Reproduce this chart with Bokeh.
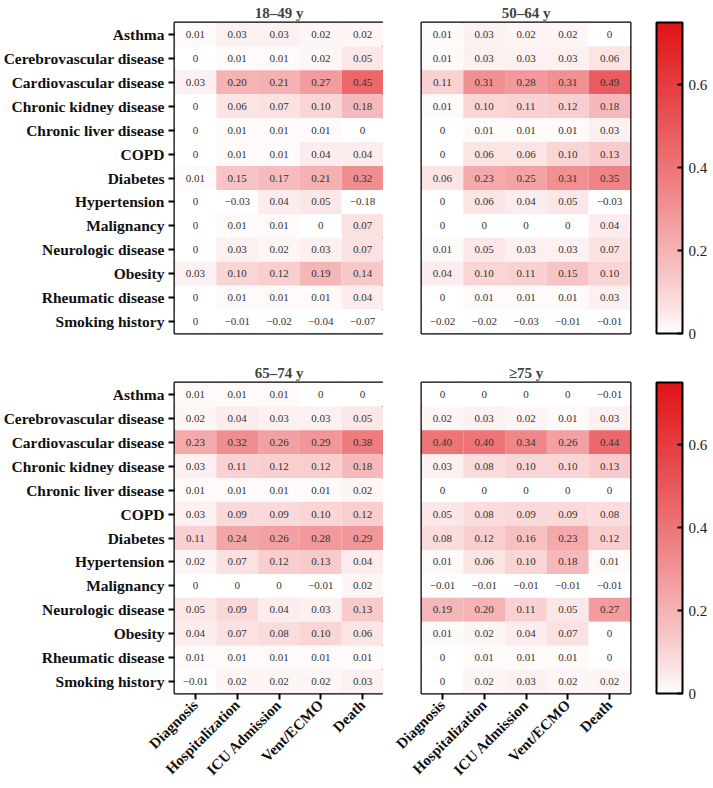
import math
import numpy as np
from bokeh.plotting import figure
from bokeh.models import (ColumnDataSource, LinearColorMapper, ColorBar, FixedTicker,
                          FactorRange)
from bokeh.transform import transform
from bokeh.layouts import row, column
from bokeh.embed import file_html
from bokeh.resources import INLINE

conditions = ["Asthma", "Cerebrovascular disease", "Cardiovascular disease",
              "Chronic kidney disease", "Chronic liver disease", "COPD", "Diabetes",
              "Hypertension", "Malignancy", "Neurologic disease", "Obesity",
              "Rheumatic disease", "Smoking history"]
outcomes = ["Diagnosis", "Hospitalization", "ICU Admission", "Vent/ECMO", "Death"]
panel_titles = ["18–49 y", "50–64 y", "65–74 y", "≥75 y"]

vals_18_49 = [
    [0.01, 0.03, 0.03, 0.02, 0.02],
    [0, 0.01, 0.01, 0.02, 0.05],
    [0.03, 0.20, 0.21, 0.27, 0.45],
    [0, 0.06, 0.07, 0.10, 0.18],
    [0, 0.01, 0.01, 0.01, 0],
    [0, 0.01, 0.01, 0.04, 0.04],
    [0.01, 0.15, 0.17, 0.21, 0.32],
    [0, -0.03, 0.04, 0.05, -0.18],
    [0, 0.01, 0.01, 0, 0.07],
    [0, 0.03, 0.02, 0.03, 0.07],
    [0.03, 0.10, 0.12, 0.19, 0.14],
    [0, 0.01, 0.01, 0.01, 0.04],
    [0, -0.01, -0.02, -0.04, -0.07],
]
vals_50_64 = [
    [0.01, 0.03, 0.02, 0.02, 0],
    [0.01, 0.03, 0.03, 0.03, 0.06],
    [0.11, 0.31, 0.28, 0.31, 0.49],
    [0.01, 0.10, 0.11, 0.12, 0.18],
    [0, 0.01, 0.01, 0.01, 0.03],
    [0, 0.06, 0.06, 0.10, 0.13],
    [0.06, 0.23, 0.25, 0.31, 0.35],
    [0, 0.06, 0.04, 0.05, -0.03],
    [0, 0, 0, 0, 0.04],
    [0.01, 0.05, 0.03, 0.03, 0.07],
    [0.04, 0.10, 0.11, 0.15, 0.10],
    [0, 0.01, 0.01, 0.01, 0.03],
    [-0.02, -0.02, -0.03, -0.01, -0.01],
]
vals_65_74 = [
    [0.01, 0.01, 0.01, 0, 0],
    [0.02, 0.04, 0.03, 0.03, 0.05],
    [0.23, 0.32, 0.26, 0.29, 0.38],
    [0.03, 0.11, 0.12, 0.12, 0.18],
    [0.01, 0.01, 0.01, 0.01, 0.02],
    [0.03, 0.09, 0.09, 0.10, 0.12],
    [0.11, 0.24, 0.26, 0.28, 0.29],
    [0.02, 0.07, 0.12, 0.13, 0.04],
    [0, 0, 0, -0.01, 0.02],
    [0.05, 0.09, 0.04, 0.03, 0.13],
    [0.04, 0.07, 0.08, 0.10, 0.06],
    [0.01, 0.01, 0.01, 0.01, 0.01],
    [-0.01, 0.02, 0.02, 0.02, 0.03],
]
vals_75 = [
    [0, 0, 0, 0, -0.01],
    [0.02, 0.03, 0.02, 0.01, 0.03],
    [0.40, 0.40, 0.34, 0.26, 0.44],
    [0.03, 0.08, 0.10, 0.10, 0.13],
    [0, 0, 0, 0, 0],
    [0.05, 0.08, 0.09, 0.09, 0.08],
    [0.08, 0.12, 0.16, 0.23, 0.12],
    [0.01, 0.06, 0.10, 0.18, 0.01],
    [-0.01, -0.01, -0.01, -0.01, -0.01],
    [0.19, 0.20, 0.11, 0.05, 0.27],
    [0.01, 0.02, 0.04, 0.07, 0],
    [0, 0.01, 0.01, 0.01, 0],
    [0, 0.02, 0.03, 0.02, 0.02],
]
cbar_ticks = [0, 0.2, 0.4, 0.6]
cbar_labels = ["0", "0.2", "0.4", "0.6"]
c_low, c_high = 0.0, 0.75

# white -> red palette
lo = np.array([255, 255, 255])
hi = np.array([224, 20, 24])
palette = []
for i in range(256):
    f = (i / 255) ** 0.85
    c = lo + (hi - lo) * f
    palette.append("#%02x%02x%02x" % tuple(int(round(v)) for v in c))

FONT = "Liberation Serif"


def fmt(v):
    if v == 0:
        return "0"
    s = f"{v:.2f}"
    return s.replace("-", "\u2212")


def make_panel(title, vals, show_y, show_x, add_cbar):
    xs, ys, vs, ts = [], [], [], []
    for ci, cond in enumerate(conditions):
        for oi, out in enumerate(outcomes):
            xs.append(out)
            ys.append(cond)
            vs.append(vals[ci][oi])
            ts.append(fmt(vals[ci][oi]))
    src = ColumnDataSource(dict(x=xs, y=ys, v=vs, t=ts))
    mapper = LinearColorMapper(palette=palette, low=c_low, high=c_high)
    p = figure(x_range=FactorRange(*outcomes), y_range=FactorRange(*conditions[::-1]),
               frame_width=209, frame_height=311,
               min_border_left=172 if show_y else 38,
               min_border_right=68 if add_cbar else 0,
               min_border_top=4, min_border_bottom=84 if show_x else 27,
               toolbar_location=None, output_backend="svg", title=title)
    p.rect(x="x", y="y", width=1, height=1, source=src,
           fill_color=transform("v", mapper), line_color=None)
    p.text(x="x", y="y", text="t", source=src, text_align="center",
           text_baseline="middle", text_font_size="11px",
           text_color="#333333", text_font={"value": FONT})
    p.title.align = "center"
    p.title.text_font = FONT
    p.title.text_font_size = "15px"
    p.title.text_font_style = "bold"
    p.title.standoff = 4
    p.outline_line_color = "black"
    p.outline_line_width = 2
    p.outline_line_alpha = 1
    p.grid.visible = False
    p.background_fill_color = "white"
    p.border_fill_color = "white"
    for ax in (p.xaxis, p.yaxis):
        ax.axis_line_color = None
        ax.major_tick_line_color = "black"
        ax.major_tick_line_width = 2
        ax.major_tick_out = 6
        ax.major_tick_in = 0
        ax.minor_tick_line_color = None
        ax.major_label_text_font = FONT
        ax.major_label_text_font_style = "bold"
        ax.major_label_text_font_size = "15.5px"
        ax.major_label_text_color = "#111111"
        ax.major_label_standoff = 4
    p.xaxis.major_label_text_font_size = "15px"
    p.xaxis.major_label_standoff = 3
    p.xaxis.major_label_orientation = math.pi / 4
    p.xaxis.visible = show_x
    p.yaxis.visible = show_y
    if add_cbar:
        cb = ColorBar(color_mapper=mapper, width=26, height=311,
                      ticker=FixedTicker(ticks=cbar_ticks),
                      major_label_overrides={t: l for t, l in zip(cbar_ticks, cbar_labels)},
                      padding=0, margin=0, location=(26, 0),
                      bar_line_color="black", bar_line_width=2,
                      major_tick_line_color="black", major_tick_line_width=2,
                      major_tick_in=5, major_tick_out=0, label_standoff=6,
                      major_label_text_font=FONT, major_label_text_font_size="15px",
                      major_label_text_color="#222222",
                      border_line_color=None, background_fill_color=None)
        p.add_layout(cb, "right")
    return p


pA = make_panel(panel_titles[0], vals_18_49, True, False, False)
pB = make_panel(panel_titles[1], vals_50_64, False, False, True)
pC = make_panel(panel_titles[2], vals_65_74, True, True, False)
pD = make_panel(panel_titles[3], vals_75, False, True, True)

layout = column(row(pA, pB), row(pC, pD))
open("out.html", "w").write(file_html(layout, INLINE))
